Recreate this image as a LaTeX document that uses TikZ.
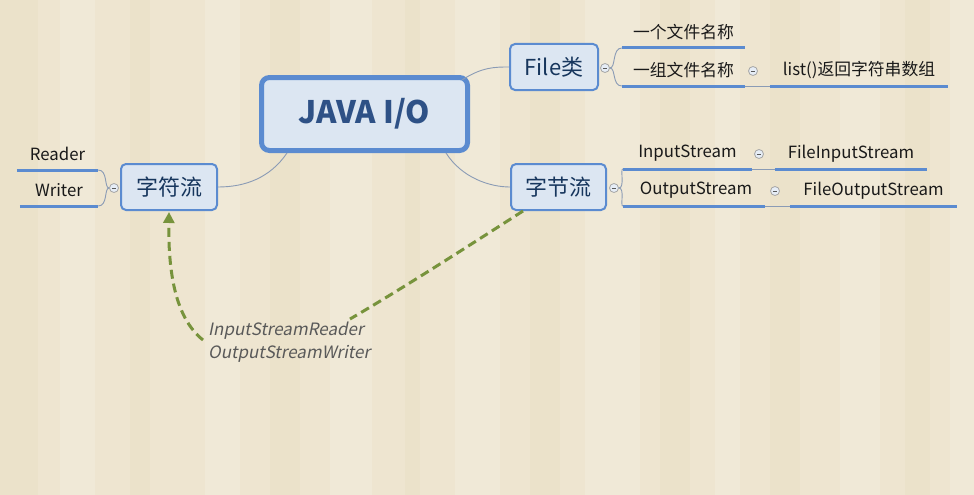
\documentclass[tikz,border=0pt]{standalone}
\usepackage{fontspec}
\setmainfont{Noto Sans CJK SC}
\newfontfamily\slantfont[FakeSlant=0.2]{Noto Sans CJK SC}
\usetikzlibrary{arrows.meta,calc}
\definecolor{bg}{HTML}{EEE5D0}
\definecolor{bgA}{HTML}{EAE0C7}
\definecolor{bgB}{HTML}{F2ECDC}
\definecolor{bord}{HTML}{5B8BD0}
\definecolor{boxfill}{HTML}{DCE6F2}
\definecolor{maintext}{HTML}{2E5186}
\definecolor{subtext}{HTML}{17365D}
\definecolor{conn}{HTML}{8A9BB5}
\definecolor{relgreen}{HTML}{77933C}
\definecolor{lbl}{HTML}{595959}
\tikzset{
  mainbox/.style={draw=bord, line width=5pt, fill=boxfill, rounded corners=8pt,
    minimum width=206pt, minimum height=73pt, font=\fontsize{31}{34}\selectfont\bfseries, text=maintext},
  subbox/.style={draw=bord, line width=2pt, fill=boxfill, rounded corners=5pt,
    minimum height=46pt, font=\fontsize{22}{24}\selectfont, text=subtext},
  leaf/.style={anchor=south, minimum height=31pt, inner sep=0pt, font=\fontsize{16.8}{19}\selectfont, text=black!90},
  uline/.style={draw=bord, line width=3pt},
  thin/.style={draw=conn, line width=0.9pt},
  fold/.style={circle, draw=gray!70, fill=boxfill!70!white, line width=0.8pt, minimum size=9pt, inner sep=0pt,
    path picture={\draw[gray!70!black, line width=0.8pt] ($(path picture bounding box.west)+(2.3pt,0)$) -- ($(path picture bounding box.east)+(-2.3pt,0)$);}},
  rel/.style={draw=relgreen, line width=3pt, dash pattern=on 9pt off 5pt},
}
\begin{document}
\begin{tikzpicture}[x=1pt,y=-1pt]
% background
\fill[bg] (0,0) rectangle (974,495);
\foreach \a/\b/\c in {0/38/bgA,60/95/bgB,130/150/bgA,205/240/bgB,270/300/bgA,330/372/bgB,405/420/bgA,455/500/bgB,530/560/bgA,585/640/bgB,660/690/bgA,715/740/bgB,770/800/bgA,840/880/bgB,905/930/bgA,950/974/bgB}{
  \fill[\c, opacity=0.6] (\a,0) rectangle (\b,495);
}
\useasboundingbox (0,0) rectangle (974,495);

% main nodes
\node[mainbox] (main) at (364.5,114) {JAVA I/O};
\node[subbox, minimum width=88pt] (file) at (554,67) {File类};
\node[subbox, minimum width=95pt] (zj) at (558.5,187) {字节流};
\node[subbox, minimum width=96pt] (zf) at (169,187) {字符流};

% main connectors
\draw[thin] ($(main.north east)+(-8,5)$) .. controls (482,67) and (495,67) .. (file.west);
\draw[thin] ($(main.south east)+(-24,0)$) .. controls (462,178) and (490,187) .. (zj.west);
\draw[thin] ($(main.south west)+(28,0)$) .. controls (270,178) and (245,187) .. (zf.east);

% fold circles
\node[fold] (cf) at (605,68) {};
\node[fold] (czj) at (614,188) {};
\node[fold] (czf) at (114,188) {};

% File leaves
\node[leaf, minimum width=123pt] (f1) at (683.5,48) {一个文件名称};
\node[leaf, minimum width=123pt] (f2) at (683.5,86) {一组文件名称};
\node[leaf, minimum width=178pt] (f3) at (859,86) {list()返回字符串数组};
\node[fold] (cf2) at (753,71) {};
\draw[uline] (f1.south west) -- (f1.south east);
\draw[uline] (f2.south west) -- (f2.south east);
\draw[uline] (f3.south west) -- (f3.south east);
\draw[thin] (f2.south east) -- (f3.south west);
\draw[thin] (cf.east) .. controls (616,68) and (612,48) .. (f1.south west);
\draw[thin] (cf.east) .. controls (616,68) and (612,86) .. (f2.south west);

% byte stream leaves
\node[leaf, minimum width=129pt] (b1) at (687.5,169) {InputStream\hspace*{0pt}};
\node[leaf, minimum width=142pt] (b2) at (694,206) {\hspace*{4pt}OutputStream};
\node[leaf, minimum width=152pt] (b3) at (851,169) {FileInputStream};
\node[leaf, minimum width=167pt] (b4) at (873.5,206) {FileOutputStream};
\node[fold] (cb1) at (759,154) {};
\node[fold] (cb2) at (775,191) {};
\draw[uline] (b1.south west) -- (b1.south east);
\draw[uline] (b2.south west) -- (b2.south east);
\draw[uline] (b3.south west) -- (b3.south east);
\draw[uline] (b4.south west) -- (b4.south east);
\draw[thin] (b1.south east) -- (b3.south west);
\draw[thin] (b2.south east) -- (b4.south west);
\draw[thin] (czj.east) .. controls (625,188) and (620,169) .. (b1.south west);
\draw[thin] (czj.east) .. controls (625,188) and (620,206) .. (b2.south west);

% char stream leaves
\node[leaf, minimum width=81pt] (r1) at (57.5,170) {Reader};
\node[leaf, minimum width=78pt] (r2) at (59,206) {Writer};
\draw[uline] (r1.south west) -- (r1.south east);
\draw[uline] (r2.south west) -- (r2.south east);
\draw[thin] (czf.west) .. controls (104,188) and (108,170) .. (r1.south east);
\draw[thin] (czf.west) .. controls (104,188) and (108,206) .. (r2.south east);

% relationship
\node[align=left, inner sep=0pt, font=\slantfont\fontsize{17}{23}\selectfont, text=lbl, anchor=north west] (lab) at (208,322) {InputStreamReader\\OutputStreamWriter};
\draw[rel] ($(zj.south west)+(13,0)$) .. controls (470,245) and (400,290) .. ($(lab.north west)+(142,-3)$);
\draw[rel, -{Triangle[length=11pt,width=11pt]}] ($(lab.north west)+(-5,18)$) .. controls (178,320) and (168,280) .. ($(zf.south)+(0,1)$);
\end{tikzpicture}
\end{document}
